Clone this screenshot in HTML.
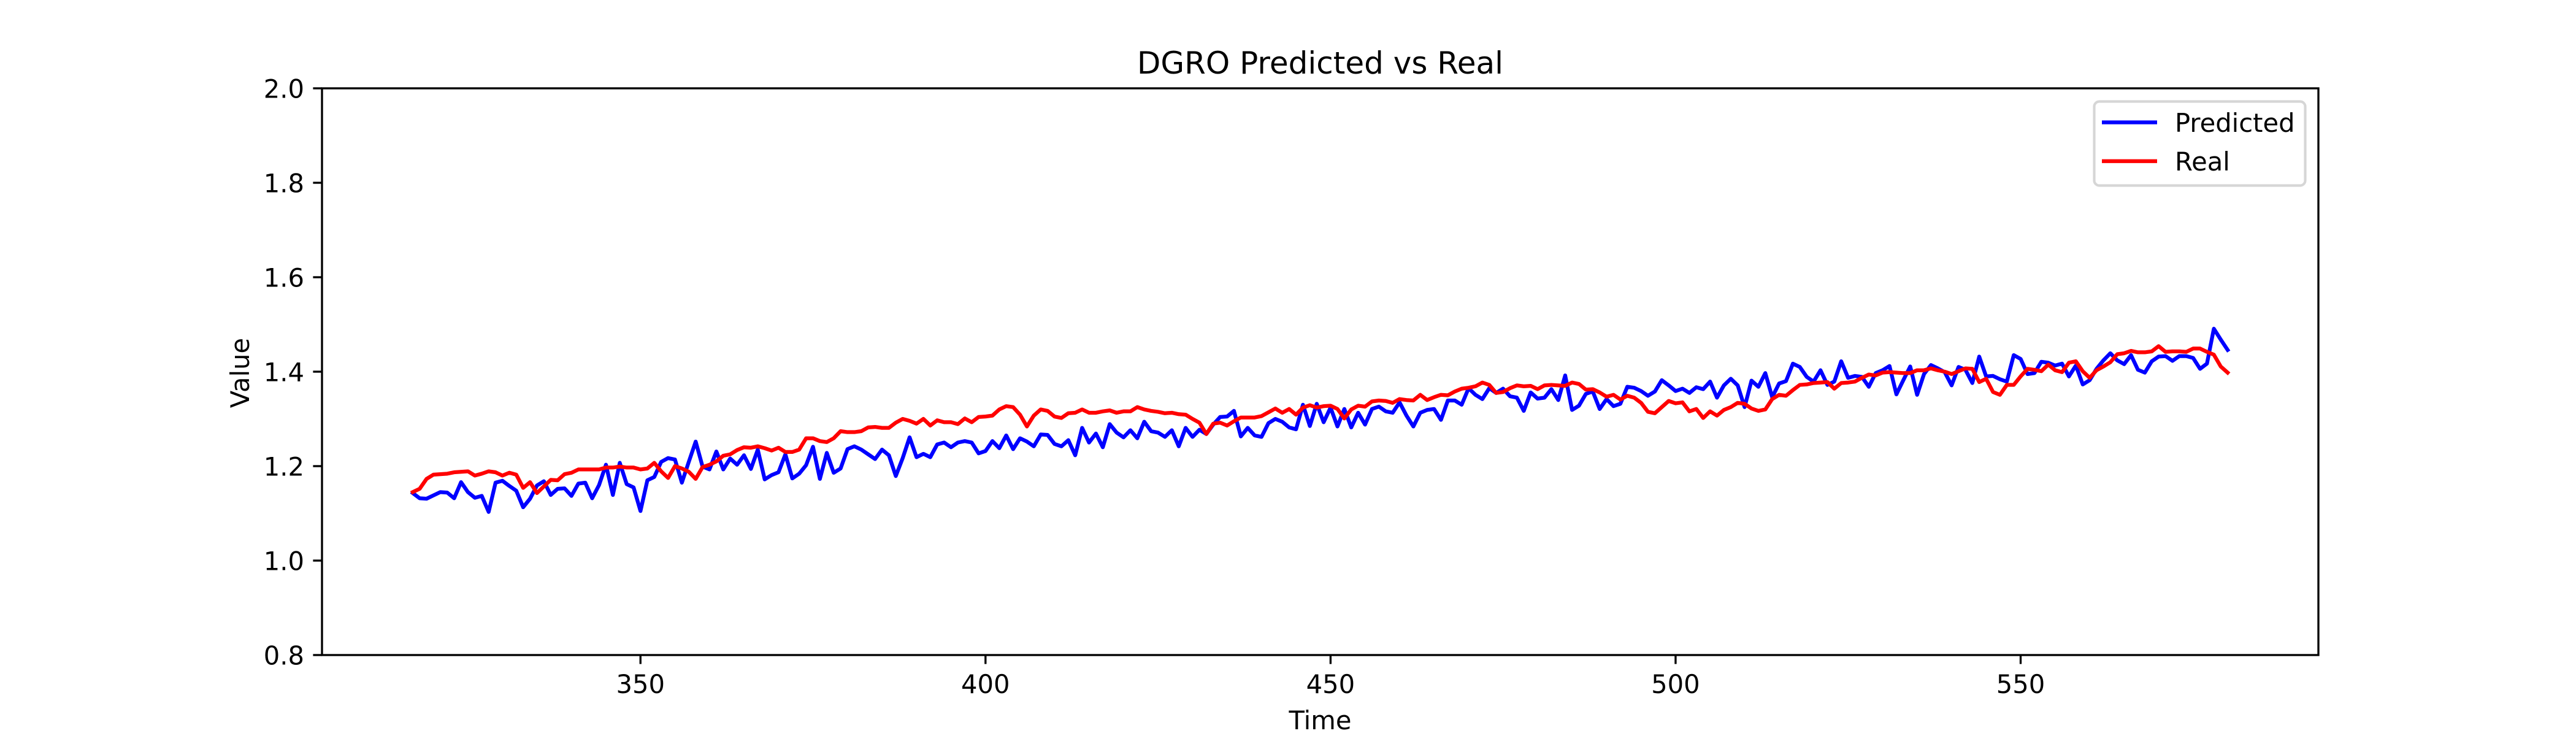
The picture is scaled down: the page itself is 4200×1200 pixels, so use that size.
<!DOCTYPE html>
<html lang="en">
<head>
<meta charset="utf-8">
<title>DGRO Predicted vs Real</title>
<style>
html,body{margin:0;padding:0;background:#fff;width:4200px;height:1200px;overflow:hidden}
svg{display:block}
text{font-family:"DejaVu Sans","Liberation Sans",sans-serif;fill:#000}
</style>
</head>
<body>
<svg id="chart" xmlns="http://www.w3.org/2000/svg" width="4200" height="1200" viewBox="0 0 4200 1200">
  <rect x="0" y="0" width="4200" height="1200" fill="#fff"/>
  <text x="2152.5" y="120" font-size="50" text-anchor="middle">DGRO Predicted vs Real</text>
  <g id="ticks"></g>
  <g id="series"></g>
  <rect x="525" y="144" width="3255" height="924" fill="none" stroke="#000" stroke-width="3.33"/>
  <text x="2152.5" y="1189" font-size="41.67" text-anchor="middle">Time</text>
  <text transform="translate(406 608) rotate(-90)" font-size="41.67" text-anchor="middle">Value</text>
  <g>
    <rect x="3414.5" y="165.5" width="344" height="137" rx="8.3" ry="8.3" fill="#fff" stroke="#d6d6d6" stroke-width="4.17"/>
    <line x1="3427" y1="199.5" x2="3517" y2="199.5" stroke="#0000ff" stroke-width="6.25"/>
    <text x="3546" y="215" font-size="41.67">Predicted</text>
    <line x1="3427" y1="262.7" x2="3517" y2="262.7" stroke="#ff0000" stroke-width="6.25"/>
    <text x="3546" y="278" font-size="41.67">Real</text>
  </g>
</svg>
<script>
const timeStart = 317;
const xTickValues = [350, 400, 450, 500, 550];
const xTickLabels = ["350", "400", "450", "500", "550"];
const yTickValues = [0.8, 1.0, 1.2, 1.4, 1.6, 1.8, 2.0];
const yTickLabels = ["0.8", "1.0", "1.2", "1.4", "1.6", "1.8", "2.0"];
const predicted = [
1.143,1.132,1.131,1.138,1.145,1.144,1.132,1.166,1.145,1.133,1.137,1.103,1.165,1.169,1.158,1.148,1.113,1.131,1.159,1.168,
1.139,1.152,1.153,1.137,1.163,1.165,1.132,1.160,1.203,1.139,1.207,1.162,1.155,1.105,1.170,1.177,
1.209,1.217,1.214,1.165,1.209,1.252,1.199,1.193,1.231,1.193,1.216,1.203,1.223,1.194,1.235,1.172,1.181,1.187,1.225,1.174,
1.184,1.202,1.241,1.173,1.228,1.186,1.195,1.236,1.242,1.235,1.225,1.215,1.235,1.223,1.179,1.217,
1.261,1.219,1.226,1.219,1.246,1.250,1.240,1.250,1.253,1.250,1.227,1.232,1.253,1.238,1.265,1.236,1.259,1.252,1.242,1.267,
1.266,1.247,1.242,1.255,1.223,1.281,1.250,1.269,1.240,1.289,1.271,1.261,1.276,1.259,1.294,1.274,
1.271,1.262,1.276,1.242,1.281,1.262,1.277,1.268,1.288,1.304,1.305,1.317,1.263,1.281,1.265,1.262,1.291,1.300,1.294,1.282,
1.278,1.330,1.285,1.332,1.293,1.324,1.284,1.321,1.282,1.313,1.288,1.321,1.326,1.316,1.313,1.335,
1.307,1.284,1.313,1.319,1.321,1.298,1.339,1.339,1.330,1.365,1.351,1.342,1.365,1.355,1.364,1.348,1.345,1.317,1.356,1.343,
1.345,1.363,1.340,1.392,1.319,1.328,1.353,1.358,1.321,1.342,1.327,1.332,1.368,1.366,1.359,1.349,
1.358,1.382,1.371,1.359,1.364,1.355,1.367,1.363,1.379,1.345,1.371,1.385,1.371,1.325,1.381,1.368,1.397,1.346,1.375,1.380,
1.417,1.410,1.389,1.379,1.403,1.372,1.379,1.422,1.387,1.391,1.389,1.368,1.397,1.403,1.412,1.352,1.382,1.411,
1.351,1.395,1.414,1.407,1.399,1.371,1.410,1.404,1.376,1.432,1.390,1.391,1.384,1.379,1.435,1.427,1.395,1.397,1.421,1.419,
1.413,1.417,1.390,1.413,1.373,1.382,1.406,1.424,1.439,1.424,1.416,1.435,1.404,1.398,1.422,1.432,1.433,1.423,1.433,1.433,
1.429,1.406,1.417,1.491,1.468,1.446
];
const real = [
1.145,1.152,1.173,1.182,1.183,1.184,1.187,1.188,1.189,1.180,1.184,1.189,1.187,1.180,1.186,1.182,1.154,1.166,1.143,1.157,
1.171,1.170,1.183,1.186,1.193,1.193,1.193,1.193,1.197,1.197,1.199,1.197,1.197,1.193,1.195,1.207,
1.189,1.175,1.200,1.195,1.188,1.173,1.198,1.203,1.210,1.222,1.225,1.234,1.240,1.239,1.242,1.238,1.233,1.239,1.230,1.230,
1.235,1.259,1.259,1.253,1.251,1.259,1.274,1.272,1.272,1.274,1.282,1.283,1.281,1.281,1.292,1.300,
1.296,1.290,1.300,1.286,1.297,1.293,1.293,1.289,1.301,1.293,1.304,1.305,1.307,1.320,1.327,1.325,1.309,1.284,1.307,1.320,
1.317,1.305,1.302,1.312,1.313,1.320,1.313,1.313,1.316,1.318,1.313,1.316,1.316,1.325,1.320,1.317,
1.315,1.312,1.313,1.310,1.309,1.300,1.292,1.268,1.290,1.292,1.286,1.295,1.303,1.303,1.303,1.306,1.314,1.322,1.313,1.321,
1.309,1.324,1.329,1.324,1.327,1.328,1.321,1.301,1.320,1.328,1.326,1.337,1.339,1.338,1.334,1.342,
1.340,1.339,1.351,1.340,1.346,1.351,1.350,1.358,1.364,1.366,1.369,1.377,1.372,1.355,1.357,1.365,1.371,1.369,1.370,1.363,
1.371,1.372,1.371,1.370,1.377,1.374,1.362,1.363,1.356,1.347,1.351,1.341,1.349,1.345,1.334,1.315,1.312,1.325,
1.338,1.333,1.335,1.316,1.321,1.302,1.316,1.307,1.319,1.325,1.334,1.332,1.322,1.317,1.320,1.342,1.351,1.349,1.361,1.372,
1.373,1.376,1.377,1.378,1.364,1.376,1.377,1.379,1.387,1.394,1.392,1.398,1.399,1.398,1.397,1.397,
1.403,1.403,1.407,1.403,1.400,1.395,1.401,1.407,1.406,1.378,1.385,1.357,1.351,1.372,1.372,1.390,1.406,1.404,1.401,1.415,
1.403,1.399,1.419,1.422,1.401,1.387,1.403,1.411,1.420,1.437,1.439,1.444,1.441,1.441,1.443,1.454,1.442,1.443,1.443,1.442,
1.449,1.449,1.442,1.436,1.411,1.398
];

const SVG_NS = "http://www.w3.org/2000/svg";
const plot = { left: 525, right: 3780, top: 144, bottom: 1068 };
const yDomain = [0.8, 2.0];

function xDomain() {
  const first = timeStart;
  const last = timeStart + Math.max(predicted.length, real.length) - 1;
  const margin = (last - first) * 0.05;
  return [first - margin, last + margin];
}
function xScale(t) {
  const d = xDomain();
  return plot.left + (t - d[0]) / (d[1] - d[0]) * (plot.right - plot.left);
}
function yScale(v) {
  return plot.bottom - (v - yDomain[0]) / (yDomain[1] - yDomain[0]) * (plot.bottom - plot.top);
}
function make(tag, attrs) {
  const el = document.createElementNS(SVG_NS, tag);
  for (const k in attrs) el.setAttribute(k, attrs[k]);
  return el;
}

const tickLayer = document.getElementById("ticks");
xTickValues.forEach(function (value, i) {
  const x = xScale(value);
  const mark = make("line", { x1: x, y1: plot.bottom, x2: x, y2: plot.bottom + 14.6, stroke: "#000", "stroke-width": 3.33 });
  
  
  tickLayer.appendChild(mark);
  const label = make("text", { x: x, y: 1130, "font-size": 41.67, "text-anchor": "middle" });
  
  
  label.textContent = xTickLabels[i];
  tickLayer.appendChild(label);
});
yTickValues.forEach(function (value, i) {
  const y = yScale(value);
  const mark = make("line", { x1: plot.left - 14.6, y1: y, x2: plot.left, y2: y, stroke: "#000", "stroke-width": 3.33 });
  
  
  tickLayer.appendChild(mark);
  const label = make("text", { x: 496, y: y + 15.5, "font-size": 41.67, "text-anchor": "end" });
  
  
  label.textContent = yTickLabels[i];
  tickLayer.appendChild(label);
});

function linePath(values) {
  return values.map(function (v, i) {
    return (i ? "L" : "M") + xScale(timeStart + i).toFixed(2) + " " + yScale(v).toFixed(2);
  }).join("");
}
const seriesLayer = document.getElementById("series");
const predictedLine = make("path", { d: linePath(predicted), fill: "none", stroke: "#0000ff", "stroke-width": 6.25, "stroke-linejoin": "round", "stroke-linecap": "square" });


seriesLayer.appendChild(predictedLine);
const realLine = make("path", { d: linePath(real), fill: "none", stroke: "#ff0000", "stroke-width": 6.25, "stroke-linejoin": "round", "stroke-linecap": "square" });


seriesLayer.appendChild(realLine);
</script>
</body>
</html>
